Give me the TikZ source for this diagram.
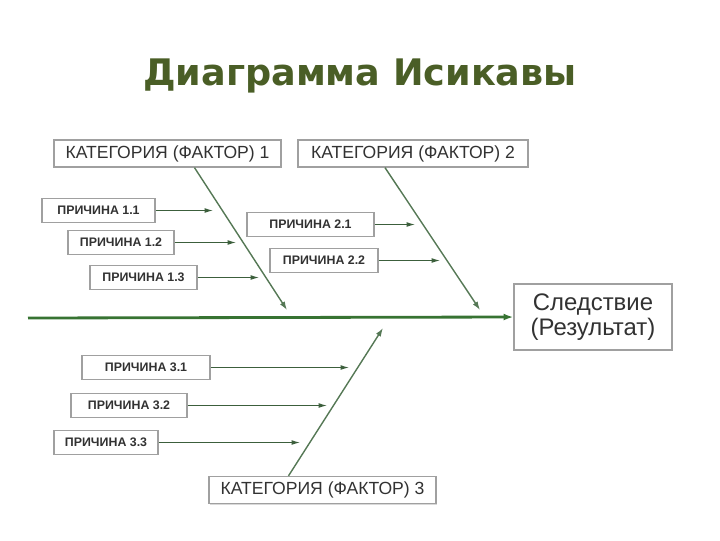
\documentclass[tikz,border=0pt]{standalone}
\usepackage{fontspec}
\setmainfont{Liberation Sans}
\newfontfamily\titlefont{DejaVu Sans}
\usetikzlibrary{arrows.meta,calc,shadows}
\definecolor{titleolive}{RGB}{74,94,38}
\definecolor{boxgray}{RGB}{160,160,160}
\definecolor{textgray}{RGB}{50,50,50}
\definecolor{bonegreen}{RGB}{85,120,85}
\definecolor{twiggreen}{RGB}{60,95,60}
\definecolor{spinegreen}{RGB}{55,115,50}

\begin{document}
\begin{tikzpicture}[x=0.025cm,y=-0.025cm,
    box/.style={draw=boxgray,fill=white,line width=0.9pt,inner sep=0pt,text=textgray,
      drop shadow={shadow xshift=0.7pt,shadow yshift=-0.7pt,opacity=0.3}},
    catbox/.style={box,font=\fontsize{12.5}{14}\selectfont,minimum height=0.675cm},
    causebox/.style={box,font=\bfseries\fontsize{8.8}{10}\selectfont,minimum height=0.6cm},
    bone/.style={draw=bonegreen,line width=1pt,-{Latex[length=6pt,width=4pt]}},
    twig/.style={draw=twiggreen,line width=0.75pt,-{Latex[length=6pt,width=3.5pt]}},
    spine/.style={draw=spinegreen,line width=2pt,-{Latex[length=7pt,width=5pt]}}]
  \useasboundingbox (0,0) rectangle (720,540);

  \node[anchor=base,text=titleolive,font=\titlefont\bfseries\fontsize{26}{30}\selectfont] (title) at (360,85) {Диаграмма Исикавы};

  \node[catbox,minimum width=5.675cm] (cat1) at (167.5,153.5) {КАТЕГОРИЯ (ФАКТОР) 1};
  \node[catbox,minimum width=5.75cm] (cat2) at (413,153.5) {КАТЕГОРИЯ (ФАКТОР) 2};
  \node[catbox,minimum width=5.675cm] (cat3) at (322.5,490) {КАТЕГОРИЯ (ФАКТОР) 3};
  \node[box,minimum width=3.95cm,minimum height=1.65cm,align=center,
        font=\fontsize{17}{18}\selectfont] (effect) at (593,317) {Следствие\\(Результат)};

  \node[causebox,minimum width=2.825cm] (c11) at (98.5,210.5) {ПРИЧИНА 1.1};
  \node[causebox,minimum width=2.65cm] (c12) at (121,242.5) {ПРИЧИНА 1.2};
  \node[causebox,minimum width=2.675cm] (c13) at (143.5,277.5) {ПРИЧИНА 1.3};
  \node[causebox,minimum width=3.175cm] (c21) at (310.5,224.5) {ПРИЧИНА 2.1};
  \node[causebox,minimum width=2.7cm] (c22) at (324,260.5) {ПРИЧИНА 2.2};
  \node[causebox,minimum width=3.2cm] (c31) at (146,367.5) {ПРИЧИНА 3.1};
  \node[causebox,minimum width=2.9cm] (c32) at (129,405.5) {ПРИЧИНА 3.2};
  \node[causebox,minimum width=2.6cm] (c33) at (106,442.5) {ПРИЧИНА 3.3};

  \coordinate (tail) at (28,318);
  \coordinate (h1) at (287,310);
  \coordinate (h2) at (480,310);
  \coordinate (h3) at (383,328);
  \coordinate (t11) at (213,210.5);
  \coordinate (t12) at (236,242.5);
  \coordinate (t13) at (259,277.5);
  \coordinate (t21) at (415,224.5);
  \coordinate (t22) at (440,260.5);
  \coordinate (t31) at (349,367.5);
  \coordinate (t32) at (327,405.5);
  \coordinate (t33) at (300,442.5);

  \draw[spine] (tail) -- (effect.west);
  \draw[bone] ($(cat1.south)+(27,0)$) -- (h1);
  \draw[bone] ($(cat2.south)+(-28,0)$) -- (h2);
  \draw[bone] ($(cat3.north)+(-34,0)$) -- (h3);

  \foreach \c in {11,12,13,21,22,31,32,33}
    \draw[twig] (c\c.east) -- (t\c);
\end{tikzpicture}
\end{document}
